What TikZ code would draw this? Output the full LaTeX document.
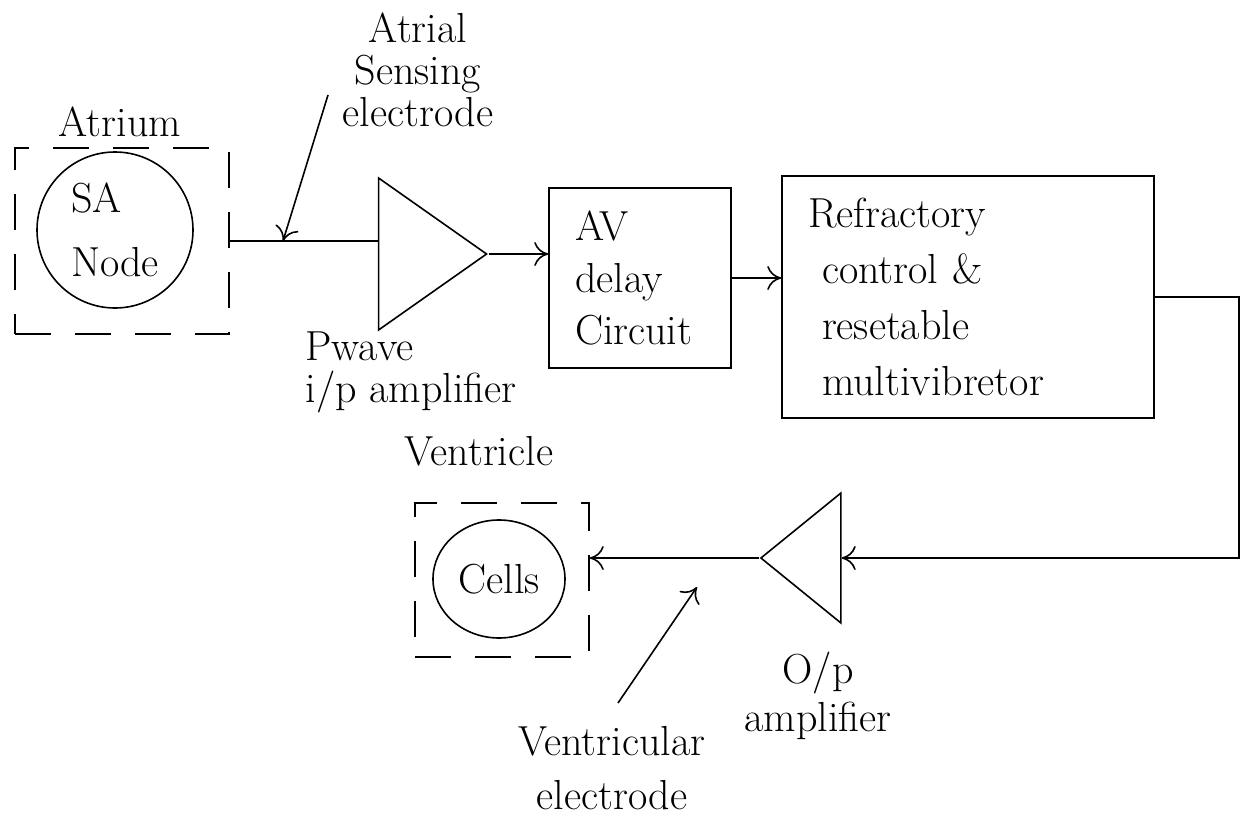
\documentclass[tikz,border=0pt]{standalone}
\usetikzlibrary{shapes.geometric,arrows.meta}

\tikzset{
  hand/.style={font=\fontsize{21}{#1}\selectfont},
  hand/.default=28pt,
  block/.style={draw,thick,hand,align=left,inner sep=0pt},
  zone/.style={draw,thick,dash pattern=on 18pt off 12pt,inner sep=0pt},
  amp/.style={draw,thick,isosceles triangle,isosceles triangle stretches,inner sep=0pt},
  wire/.style={thick},
  sig/.style={thick,-{To[length=7pt,width=12pt]}},
}

\begin{document}
\begin{tikzpicture}[x=0.5pt,y=-0.5pt]
  \useasboundingbox (0,0) rectangle (1244,819);

  % atrium
  \node[zone,minimum width=107pt,minimum height=93pt] (atrium) at (122,241) {};
  \node[hand] (atriumlbl) at (120,122) {Atrium};
  \node[block,hand=32pt,circle,minimum size=78pt] (sa) at (115,230) {SA\\Node};

  % p-wave input amplifier
  \node[amp,minimum height=54pt,minimum width=76pt] (pamp) at (418,254) {};
  \node[hand=21pt,align=left] (pamplbl) at (411,372) {Pwave\\i/p amplifier};
  \draw[wire] (atrium.east) -- (atrium.east -| pamp.west);

  % atrial electrode
  \node[hand=21pt,align=center] (aelbl) at (418,70) {Atrial\\Sensing\\electrode};
  \coordinate (aelead) at (328,95);
  \coordinate (aetip) at (283,241);
  \draw[sig] (aelead) -- (aetip);

  % delay and refractory blocks
  \node[block,hand=26pt,text width=65pt,minimum width=91pt,minimum height=90pt] (av) at (640,278)
    {AV\\delay\\Circuit};
  \node[block,text width=160pt,minimum width=186pt,minimum height=121pt] (refr) at (968,297)
    {Refractory\\\ control \&\\\ resetable\\\ multivibretor};
  \draw[sig] (pamp.apex) -- (pamp.apex -| av.west);
  \draw[sig] (av.east) -- (av.east -| refr.west);

  % output amplifier
  \node[amp,shape border rotate=180,minimum height=40pt,minimum width=65pt] (oamp) at (810,558) {};
  \node[hand=24pt,align=center] (oamplbl) at (818,696) {O/p\\amplifier};
  \draw[sig] (refr.east) -- ++(84,0) |- (oamp.east);

  % ventricle
  \node[hand] (ventrlbl) at (479,451) {Ventricle};
  \node[zone,minimum width=87pt,minimum height=77pt] (ventr) at (502,580) {};
  \node[block,ellipse,minimum width=66pt,minimum height=59pt] (cells) at (499,579) {Cells};
  \draw[sig] (oamp.apex) -- (oamp.apex -| ventr.east);

  % ventricular electrode
  \node[hand=27pt,align=center] (velbl) at (612,768) {Ventricular\\electrode};
  \coordinate (velead) at (618,703);
  \coordinate (vetip) at (697,587);
  \draw[sig] (velead) -- (vetip);
\end{tikzpicture}
\end{document}
